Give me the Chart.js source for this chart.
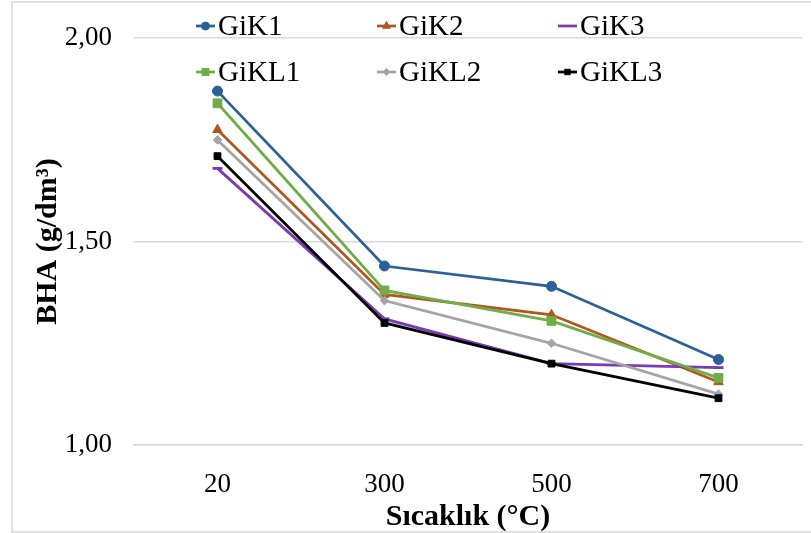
<!DOCTYPE html>
<html>
<head>
<meta charset="utf-8">
<script src="https://cdn.jsdelivr.net/npm/chart.js@4/dist/chart.umd.min.js"></script>
<style>
  html, body { margin: 0; padding: 0; background: #ffffff; }
  #wrap { width: 811px; height: 533px; position: relative; }
</style>
</head>
<body>
<div id="wrap"><canvas id="c" width="811" height="533"></canvas></div>
<script>
// Temperature categories (°C)
const categories = ['20', '300', '500', '700'];

// Bulk density values (g/dm³) per sample
const seriesNames = ['GiK1', 'GiK2', 'GiK3', 'GiKL1', 'GiKL2', 'GiKL3'];
const gik1  = [1.87, 1.44, 1.39, 1.21];
const gik2  = [1.775, 1.37, 1.32, 1.155];
const gik3  = [1.68, 1.31, 1.20, 1.19];
const gikl1 = [1.84, 1.38, 1.305, 1.165];
const gikl2 = [1.75, 1.355, 1.25, 1.125];
const gikl3 = [1.71, 1.30, 1.20, 1.115];

// Y axis range and tick step
const yMin = 1.0;
const yMax = 2.0;
const yStep = 0.5;

const seriesValues = [gik1, gik2, gik3, gikl1, gikl2, gikl3];
const colors = ['#2C6198', '#B0561E', '#7A3AB4', '#70AD47', '#A5A5A5', '#000000'];
const styles = ['circle', 'triangle', 'line', 'rect', 'rectRot', 'rect'];
const radii  = [5, 5.5, 5, 6.2, 4.3, 4.8];

const SERIF = '"Liberation Serif", "Times New Roman", serif';

const datasets = seriesNames.map((name, i) => ({
  label: name,
  data: seriesValues[i],
  borderColor: colors[i],
  backgroundColor: colors[i],
  pointBackgroundColor: colors[i],
  pointBorderColor: colors[i],
  pointStyle: styles[i],
  pointRadius: radii[i],
  pointBorderWidth: styles[i] === 'line' ? 2.75 : 1,
  borderWidth: 2.75,
  tension: 0,
  fill: false,
  order: seriesNames.length - i   // later series drawn on top
}));

// Light frame around the whole figure
const framePlugin = {
  id: 'frame',
  beforeDraw(chart) {
    const ctx = chart.ctx;
    ctx.save();
    ctx.fillStyle = '#ffffff';
    ctx.fillRect(0, 0, chart.width, chart.height);
    ctx.strokeStyle = '#d9d9d9';
    ctx.lineWidth = 1.5;
    ctx.strokeRect(12, 2, chart.width + 10, chart.height - 3);
    ctx.restore();
  }
};

// Two-row legend placed over the top of the plot
const legendPlugin = {
  id: 'gridLegend',
  afterDraw(chart) {
    const ctx = chart.ctx;
    const x0 = 196, colW = 181;
    const rowsY = [26, 72];
    ctx.save();
    chart.data.datasets.forEach((ds, i) => {
      const col = i % 3, row = Math.floor(i / 3);
      const x = x0 + col * colW;
      const y = rowsY[row];
      ctx.strokeStyle = ds.borderColor;
      ctx.lineWidth = 2.75;
      ctx.beginPath();
      ctx.moveTo(x, y);
      ctx.lineTo(x + 19, y);
      ctx.stroke();
      if (ds.pointStyle !== 'line' && Chart.helpers && Chart.helpers.drawPoint) {
        ctx.fillStyle = ds.pointBackgroundColor;
        ctx.strokeStyle = ds.pointBorderColor;
        ctx.lineWidth = 1;
        Chart.helpers.drawPoint(ctx, {
          pointStyle: ds.pointStyle,
          radius: ds.pointRadius * 0.8,
          rotation: 0,
          borderWidth: 1
        }, x + 9.5, y);
      }
      ctx.fillStyle = '#000000';
      ctx.font = '29px ' + SERIF;
      ctx.textBaseline = 'middle';
      ctx.textAlign = 'left';
      ctx.fillText(ds.label, x + 22, y + 1);
    });
    ctx.restore();
  }
};

const fmt = v => v.toFixed(2).replace('.', ',');

new Chart(document.getElementById('c'), {
  type: 'line',
  data: { labels: categories, datasets },
  options: {
    responsive: false,
    animation: false,
    events: [],
    layout: { padding: { left: 0, top: 38, right: 9, bottom: 0 } },
    plugins: {
      legend: { display: false },
      tooltip: { enabled: false },
      title: { display: false }
    },
    scales: {
      x: {
        type: 'category',
        offset: true,
        grid: { display: false, drawTicks: false },
        border: { display: true, color: '#d9d9d9', width: 1.5 },
        ticks: {
          color: '#000000',
          padding: 24,
          font: { family: SERIF, size: 27 },
          maxRotation: 0
        },
        title: {
          display: true,
          text: 'Sıcaklık (°C)',
          color: '#000000',
          font: { family: SERIF, size: 30, weight: 'bold', lineHeight: 1.05 },
          padding: { top: 0, bottom: 0 }
        },
        afterFit(scale) { scale.height = 88; }
      },
      y: {
        min: yMin,
        max: yMax,
        grid: { color: '#d9d9d9', lineWidth: 1.5, drawTicks: false },
        border: { display: false },
        ticks: {
          stepSize: yStep,
          color: '#000000',
          padding: 22,
          font: { family: SERIF, size: 27 },
          callback: v => fmt(v)
        },
        title: {
          display: true,
          text: 'BHA (g/dm³)',
          color: '#000000',
          font: { family: SERIF, size: 30, weight: 'bold' },
          padding: { top: 30, bottom: 0 }
        },
        afterFit(scale) { scale.width = 134; }
      }
    }
  },
  plugins: [framePlugin, legendPlugin]
});
</script>
</body>
</html>
